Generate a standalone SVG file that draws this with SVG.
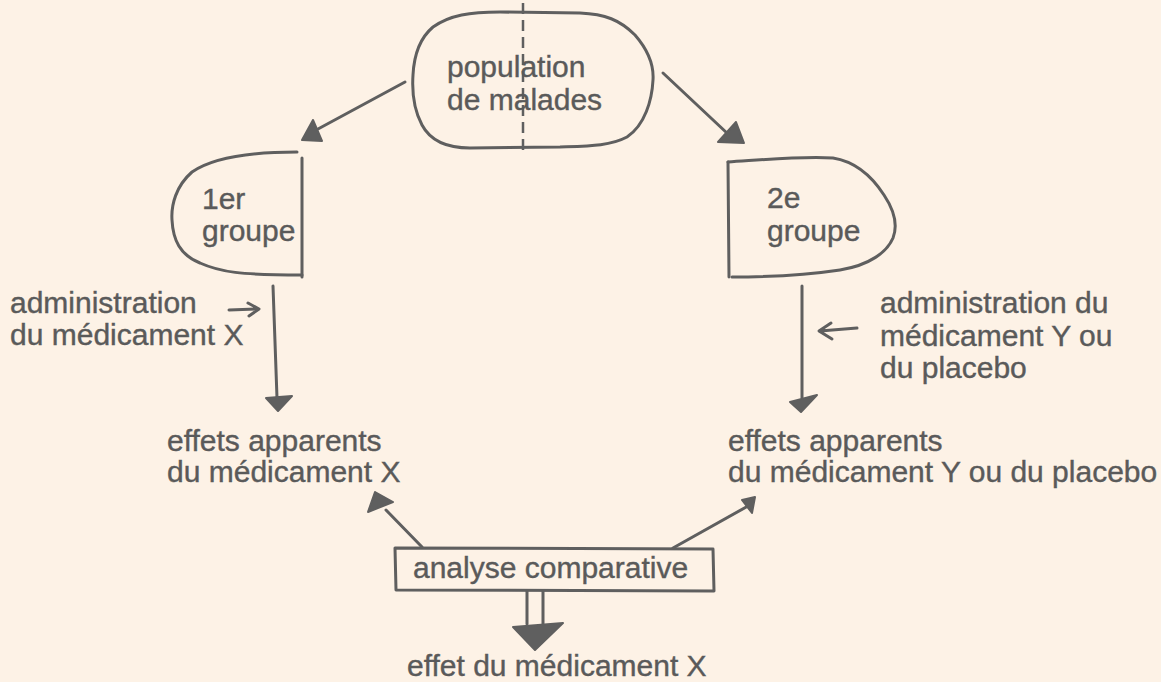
<svg xmlns="http://www.w3.org/2000/svg" width="1161" height="682" viewBox="0 0 1161 682">
  <style>
    .ink { fill: none; stroke: #5f5f5f; stroke-width: 3; stroke-linecap: round; stroke-linejoin: round; }
    .head { fill: #5f5f5f; stroke: #5f5f5f; stroke-width: 2; stroke-linejoin: round; }
    .lbl { font-family: "Liberation Sans", Arial, sans-serif; font-size: 30px; fill: #5a5a5a; stroke: #5a5a5a; stroke-width: 0.4; }
  </style>
  <rect width="1161" height="682" fill="#fdf2e6"/>

  <!-- population of patients, split by a dashed line -->
  <g id="population">
    <path class="ink" d="M433,27 C450,15 470,12 500,12 L580,13 C605,14 620,20 635,35 C648,50 654,65 653,80 C652,100 645,125 627,137 C610,146 590,146 560,147 L470,148 C445,148 430,140 422,125 C414,110 412,90 413,75 C414,55 420,38 433,27 Z"/>
    <line x1="523" y1="3" x2="523" y2="150" stroke="#5f5f5f" stroke-width="2.5" stroke-dasharray="11 6"/>
    <text class="lbl" x="447" y="77">population</text>
    <text class="lbl" x="447" y="110">de malades</text>
  </g>

  <!-- first group -->
  <g id="groupe1">
    <path class="ink" d="M297,152 C260,152 215,156 192,172 C176,186 171,205 172,220 C173,240 180,255 200,263 C220,272 240,275 302,275"/>
    <line class="ink" x1="302" y1="158" x2="302" y2="277"/>
    <text class="lbl" x="202" y="209">1er</text>
    <text class="lbl" x="202" y="241">groupe</text>
  </g>

  <!-- second group -->
  <g id="groupe2">
    <path class="ink" d="M728,162 C760,160 800,156 833,158 C858,162 873,178 884,195 C894,210 898,225 893,238 C887,252 870,265 840,270 C800,276 760,277 732,277"/>
    <line class="ink" x1="728" y1="162" x2="729" y2="277"/>
    <text class="lbl" x="767" y="208">2e</text>
    <text class="lbl" x="767" y="241">groupe</text>
  </g>

  <!-- treatment labels -->
  <g id="admin-x">
    <text class="lbl" x="10" y="313">administration</text>
    <text class="lbl" x="10" y="345">du médicament X</text>
  </g>
  <g id="admin-y">
    <text class="lbl" x="880" y="313">administration du</text>
    <text class="lbl" x="880" y="346">médicament Y ou</text>
    <text class="lbl" x="880" y="378">du placebo</text>
  </g>

  <!-- observed effects -->
  <g id="effets-x">
    <text class="lbl" x="167" y="451">effets apparents</text>
    <text class="lbl" x="167" y="482">du médicament X</text>
  </g>
  <g id="effets-y">
    <text class="lbl" x="728" y="451">effets apparents</text>
    <text class="lbl" x="728" y="482">du médicament Y ou du placebo</text>
  </g>

  <!-- comparison box -->
  <g id="analyse">
    <path class="ink" d="M395,548 L713,549 L714,591 L396,590 Z"/>
    <text class="lbl" x="413" y="578">analyse comparative</text>
  </g>

  <g id="resultat">
    <text class="lbl" x="407" y="676">effet du médicament X</text>
  </g>

  <!-- connectors -->
  <g id="connectors">
    <!-- population to groups -->
    <line class="ink" x1="405" y1="82" x2="318" y2="129"/>
    <polygon class="head" points="302,140 322,141 313,120"/>
    <line class="ink" x1="663" y1="73" x2="728" y2="134"/>
    <polygon class="head" points="718,142 744,143 736,122"/>

    <!-- groups to effects -->
    <line class="ink" x1="273" y1="286" x2="277" y2="398"/>
    <polygon class="head" points="266,398 292,396 278,411"/>
    <line class="ink" x1="802" y1="286" x2="802" y2="398"/>
    <polygon class="head" points="790,402 817,395 801,412"/>

    <!-- small treatment arrows -->
    <path class="ink" d="M229,310 L257,309 M248,303 L259,309 L249,316" stroke-width="2.5"/>
    <path class="ink" d="M857,328 L820,331 M831,323 L819,331 L832,339" stroke-width="2.5"/>

    <!-- box to effects -->
    <line class="ink" x1="422" y1="547" x2="386" y2="510"/>
    <polygon class="head" points="368,512 375,492 393,502"/>
    <line class="ink" x1="673" y1="548" x2="748" y2="506"/>
    <polygon class="head" points="742,500 755,497 752,513"/>

    <!-- double arrow to result -->
    <line class="ink" x1="527" y1="591" x2="527" y2="624"/>
    <line class="ink" x1="543" y1="591" x2="543" y2="624"/>
    <polygon class="head" points="513,627 563,623 535,650"/>
  </g>
</svg>
